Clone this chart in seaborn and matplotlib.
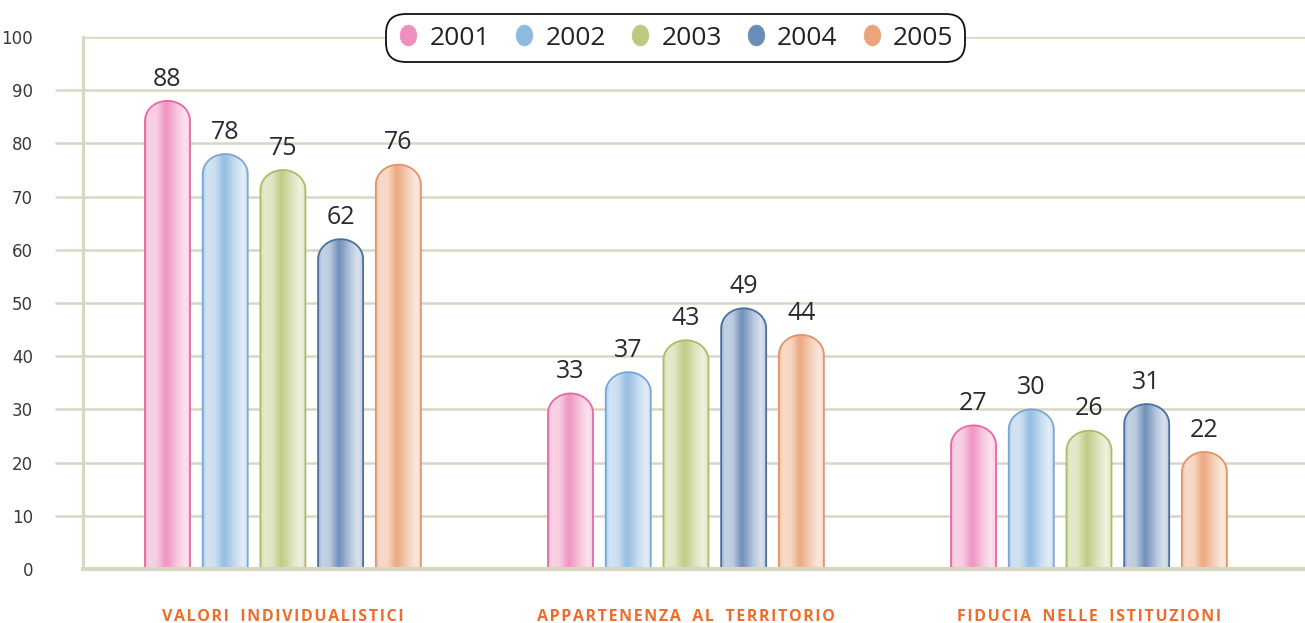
import numpy as np
import pandas as pd
import matplotlib
matplotlib.use("Agg")
import matplotlib.pyplot as plt
import seaborn as sns
from matplotlib.patches import PathPatch
from matplotlib.lines import Line2D
from matplotlib.path import Path
from matplotlib.colors import to_rgb

# data
categories = ["VALORI INDIVIDUALISTICI", "APPARTENENZA AL TERRITORIO", "FIDUCIA NELLE ISTITUZIONI"]
years = ["2001", "2002", "2003", "2004", "2005"]
v2001 = [88, 33, 27]
v2002 = [78, 37, 30]
v2003 = [75, 43, 26]
v2004 = [62, 49, 31]
v2005 = [76, 44, 22]
y_ticks = [0, 10, 20, 30, 40, 50, 60, 70, 80, 90, 100]

base_colors = ["#ef8fbf", "#8fbae0", "#bcc97e", "#6a8cb8", "#eba57a"]
edge_colors = ["#e868a6", "#78a6d8", "#aabd68", "#4a70a0", "#e3926a"]
grid_col = "#d8d7c2"

rows = []
for y, vals in zip(years, [v2001, v2002, v2003, v2004, v2005]):
    for c, v in zip(categories, vals):
        rows.append({"categoria": c, "anno": y, "valore": v})
df = pd.DataFrame(rows)

sns.set_style("white")
plt.rcParams['font.family'] = ['Open Sans', 'DejaVu Sans']

fig = plt.figure(figsize=(13.05, 6.23), dpi=100)
ax = fig.add_axes([83 / 1305, 54 / 623, 1 - 83 / 1305, (569 - 37) / 623])

palette = dict(zip(years, base_colors))
sns.barplot(data=df, x="categoria", y="valore", hue="anno", order=categories,
            hue_order=years, palette=palette, width=0.716, gap=0.22,
            legend=False, ax=ax, saturation=1)

xlim = (-0.496, 2.536)
ylim = (0, 100)
ax.set_xlim(*xlim)
ax.set_ylim(*ylim)

# data units per pixel on y, for the rounded cap height
px_y = (ylim[1] - ylim[0]) / (569 - 37)
ry = 20 * px_y

stops = [0, 0.08, 0.25, 0.45, 0.55, 0.7, 0.88, 1.0]
fmix = [0.35, 0.6, 0.55, 0.05, 0.2, 0.5, 0.75, 0.55]
tt = np.linspace(0, 1, 64)
ff = np.interp(tt, stops, fmix)

col_to_idx = {tuple(np.round(to_rgb(c), 3)): i for i, c in enumerate(base_colors)}


def pill_path(x0, w, h, bottom=-3):
    # bar with an elliptical cap on top
    th = np.linspace(np.pi, 0, 40)
    cx = x0 + w / 2
    xs = cx + (w / 2) * np.cos(th)
    ys = (h - ry) + ry * np.sin(th)
    verts = [(x0, bottom)] + list(zip(xs, ys)) + [(x0 + w, bottom), (x0, bottom)]
    codes = [Path.MOVETO] + [Path.LINETO] * (len(verts) - 2) + [Path.CLOSEPOLY]
    return Path(verts, codes)


bars = [p for p in ax.patches]
for p in bars:
    x0, w, h = p.get_x(), p.get_width(), p.get_height()
    rgb = tuple(np.round(p.get_facecolor()[:3], 3))
    i = col_to_idx.get(rgb, 0)
    p.remove()
    base = np.array(to_rgb(base_colors[i]))
    grad = base[None, :] * (1 - ff[:, None]) + ff[:, None]
    img = grad[None, :, :]
    shape = PathPatch(pill_path(x0, w, h), facecolor="none",
                      edgecolor=edge_colors[i], linewidth=1.3, zorder=3)
    ax.add_patch(shape)
    im = ax.imshow(img, extent=[x0, x0 + w, -3, h], aspect="auto",
                   interpolation="bilinear", zorder=2)
    im.set_clip_path(shape)
    ax.annotate(f"{int(round(h))}", (x0 + w / 2, h), xytext=(0, 11),
                textcoords="offset points", ha="center", va="baseline",
                fontsize=18, color="#2a2a2a")

ax.set_xlim(*xlim)
ax.set_ylim(*ylim)
ax.set_aspect("auto")

# axes styling
for s in ["top", "right"]:
    ax.spines[s].set_visible(False)
ax.spines["left"].set_color(grid_col)
ax.spines["left"].set_linewidth(2.2)
ax.spines["bottom"].set_color(grid_col)
ax.spines["bottom"].set_linewidth(3)
ax.spines["left"].set_zorder(5)
ax.spines["bottom"].set_zorder(5)
ax.set_yticks(y_ticks)
ax.yaxis.grid(True, color=grid_col, linewidth=1.8)
ax.set_axisbelow(True)
ax.tick_params(axis="y", length=20, width=1.8, color=grid_col, pad=16,
               labelsize=12, labelcolor="#3a3a3a", left=True)
for lab in ax.get_yticklabels():
    lab.set_family(['Liberation Sans Narrow', 'DejaVu Sans'])
yt = ax.yaxis.get_major_ticks()
yt[0].tick1line.set_visible(False)
yt[-1].tick1line.set_visible(False)

# letter-spaced category labels
spaced = ["\u200a".join(list(c)).replace("\u200a \u200a", "\u200a  \u200a") for c in categories]
ax.set_xticks(range(len(categories)))
ax.set_xticklabels(spaced, fontsize=11.5, fontweight="bold", color="#f06c2a")
ax.tick_params(axis="x", length=0, pad=29)
ax.set_xlabel("")
ax.set_ylabel("")

# legend
circ = Path.unit_circle()
ell = Path(circ.vertices * np.array([0.8, 1.0]), circ.codes)
handles = [Line2D([], [], linestyle="none", marker=ell, markersize=15,
                  markerfacecolor=c, markeredgecolor=c, markeredgewidth=0.5)
           for c in base_colors]
leg = ax.legend(handles, years, loc="center", bbox_to_anchor=(0.485, 0.998),
                ncol=5, fontsize=19, frameon=True, handlelength=0.8,
                handletextpad=0.4, columnspacing=0.9, borderpad=0.25,
                borderaxespad=0)
fr = leg.get_frame()
fr.set_edgecolor("#111111")
fr.set_linewidth(1.3)
fr.set_facecolor("white")
fr.set_alpha(1)
fr.set_boxstyle("round", pad=0.2, rounding_size=0.75)
for t in leg.get_texts():
    t.set_color("#222222")
leg.set_zorder(10)

fig.savefig("out.png", dpi=100)
